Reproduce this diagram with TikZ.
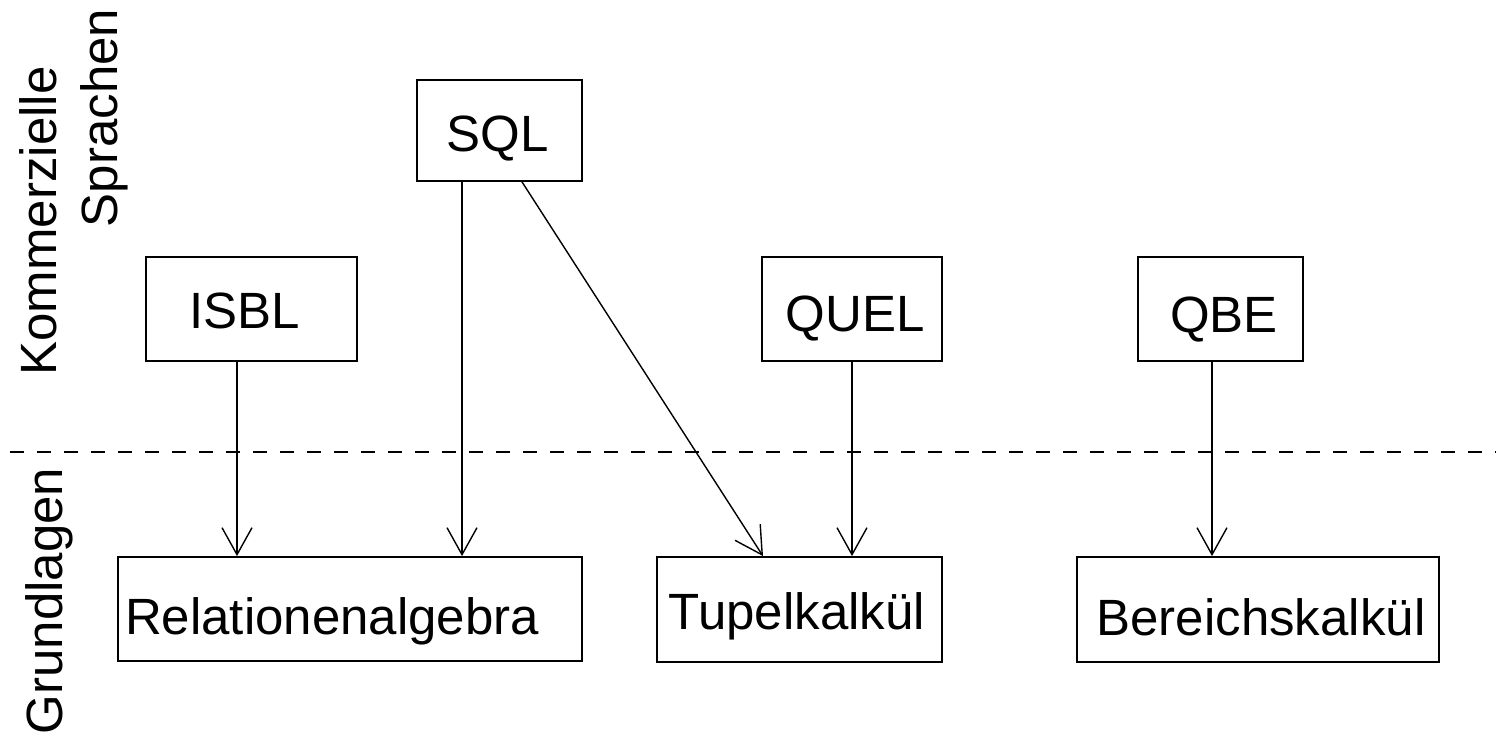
\documentclass[tikz,border=0pt]{standalone}
\usepackage{fontspec}
\setmainfont{Liberation Sans}
\usetikzlibrary{arrows.meta,fit}
\begin{document}
\begin{tikzpicture}[x=0.5pt,y=-0.5pt,
  box/.style={draw, line width=0.9pt, inner sep=0pt},
  lbl/.style={font=\fontsize{25.5}{30.6}\selectfont, anchor=base, inner sep=0pt},
  conn/.style={line width=0.7pt, -{Straight Barb[length=13.5pt,width=15pt,line width=0.7pt]}},
  sep/.style={line width=0.75pt, dash pattern=on 7pt off 6.5pt}]
\useasboundingbox (0,0) rectangle (1496,737);
% boxes
\node[box, fit={(417,80) (582,181)}] (sql) {};
\node[box, fit={(146,257) (357,361)}] (isbl) {};
\node[box, fit={(762,257) (942,361)}] (quel) {};
\node[box, fit={(1138,257) (1303,361)}] (qbe) {};
\node[box, fit={(118,557) (582,661)}] (rel) {};
\node[box, fit={(657,557) (942,662)}] (tup) {};
\node[box, fit={(1077,557) (1439,662)}] (ber) {};
% texts
\node[lbl] (sqlt) at (498,152) {SQL};
\node[lbl] (isblt) at (245,329) {ISBL};
\node[lbl] (quelt) at (855,332) {QUEL};
\node[lbl] (qbet) at (1224,333) {QBE};
\node[lbl] (relt) at (332,635) {Relationenalgebra};
\node[lbl] (tupt) at (797,630) {Tupelkalkül};
\node[lbl] (bert) at (1261,636) {Bereichskalkül};
% side labels
\node[lbl, rotate=90] (kom) at (56,221) {Kommerzielle};
\node[lbl, rotate=90] (spr) at (117,118) {Sprachen};
\node[lbl, rotate=90] (grd) at (62,601) {Grundlagen};
% separator
\coordinate (dl) at (10,452);
\coordinate (dr) at (1496,452);
\draw[sep] (dl) -- (dr);
% connector x positions
\coordinate (xa) at (237,0);
\coordinate (xb) at (462,0);
\coordinate (xs) at (522,0);
\coordinate (xt) at (763,0);
\coordinate (xq) at (852,0);
\coordinate (xe) at (1212,0);
\draw[conn] (isbl.south -| xa) -- (rel.north -| xa);
\draw[conn] (sql.south -| xb) -- (rel.north -| xb);
\draw[conn] (sql.south -| xs) -- (tup.north -| xt);
\draw[conn] (quel.south -| xq) -- (tup.north -| xq);
\draw[conn] (qbe.south -| xe) -- (ber.north -| xe);
\end{tikzpicture}
\end{document}
